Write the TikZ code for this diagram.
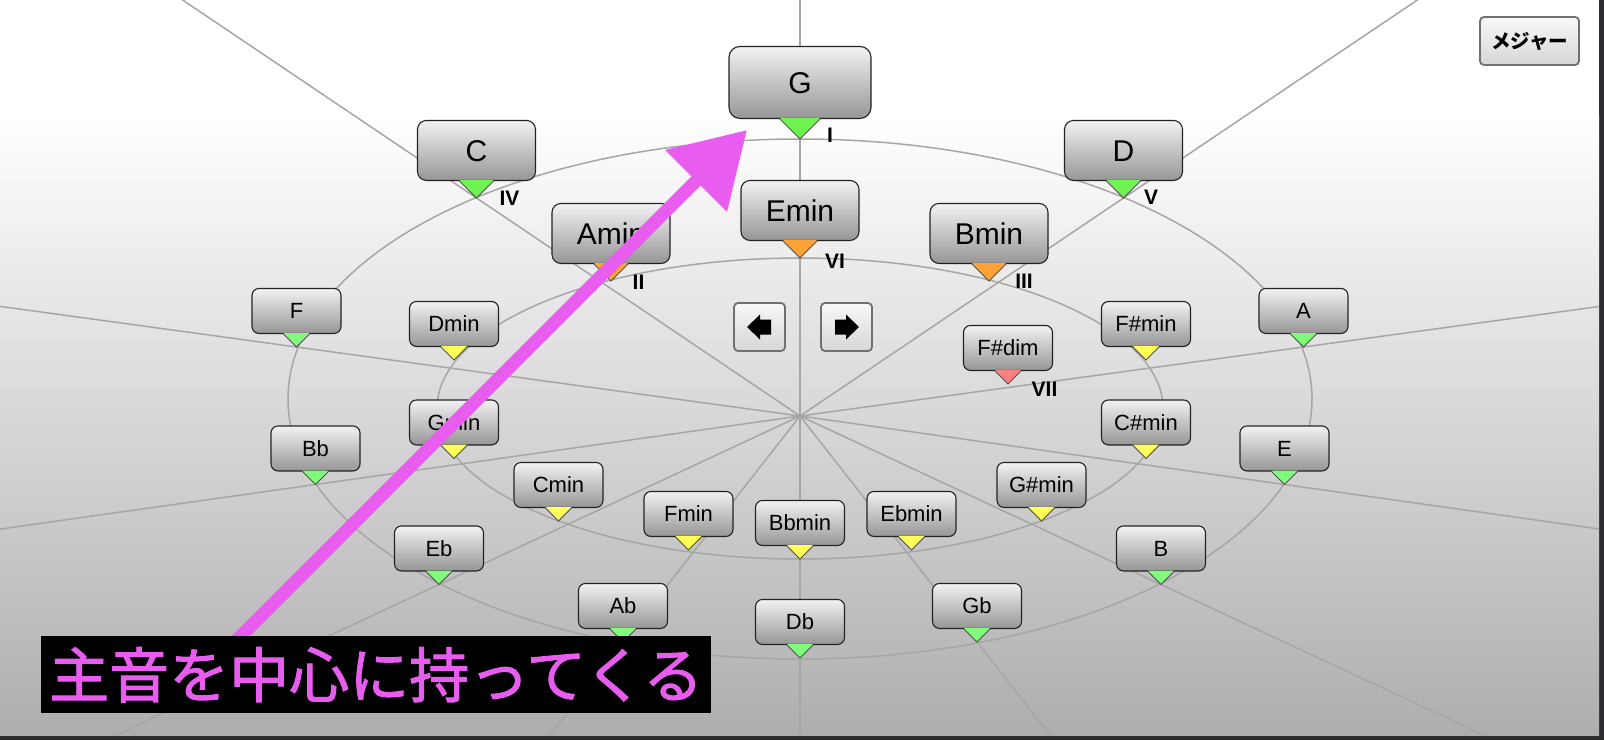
\documentclass[tikz,border=0pt]{standalone}
\usepackage{fontspec}
\setmainfont{Liberation Sans}
\newfontfamily\jpfont{Noto Sans CJK JP}
\newfontfamily\jpcap[FakeBold=1.6]{Noto Sans CJK JP}
\usetikzlibrary{arrows.meta,calc}
\definecolor{framec}{RGB}{44,46,50}
\definecolor{bgbot}{RGB}{174,174,174}
\definecolor{spokec}{RGB}{166,166,166}
\definecolor{boxtop}{RGB}{242,242,242}
\definecolor{boxbot}{RGB}{150,150,150}
\definecolor{boxedge}{RGB}{35,35,35}
\definecolor{grnB}{RGB}{112,242,82}
\definecolor{grnS}{RGB}{128,252,122}
\definecolor{orgP}{RGB}{255,162,56}
\definecolor{yelP}{RGB}{255,255,88}
\definecolor{pnkP}{RGB}{255,128,128}
\definecolor{mag}{RGB}{232,92,240}
\definecolor{btnedge}{RGB}{112,112,112}
\definecolor{btntop}{RGB}{247,248,249}
\definecolor{btnbot}{RGB}{212,214,216}
\def\smW{89}\def\smH{45}\def\smD{13}\def\smF{22}\def\smR{7}
\def\mdW{118}\def\mdH{60}\def\mdD{17}\def\mdF{30}\def\mdR{9}
\def\lgW{142}\def\lgH{72}\def\lgD{20}\def\lgF{30}\def\lgR{11}
\tikzset{
  spoke/.style={draw=spokec, line width=1.5pt},
  ring/.style={draw=spokec, line width=1.5pt},
  chordbox/.style={draw=boxedge, line width=1.1pt, top color=boxtop, bottom color=boxbot,
    inner sep=0pt, text=black},
  ptredge/.style={draw=boxedge!80, line width=0.8pt},
  roman/.style={font=\bfseries\fontsize{21}{21}\selectfont, inner sep=0pt, text=black},
  btn/.style={draw=btnedge, line width=1.8pt, rounded corners=4pt, top color=btntop,
    bottom color=btnbot, inner sep=0pt},
}
\newcommand\chord[5]{%
  \edef\cW{\csname#4W\endcsname}%
  \edef\cH{\csname#4H\endcsname}%
  \edef\cD{\csname#4D\endcsname}%
  \edef\cF{\csname#4F\endcsname}%
  \edef\cR{\csname#4R\endcsname}%
  \pgfmathsetmacro\cT{0.716*\cF}%
  \pgfmathsetmacro\cDp{\cD+1}%
  \node[chordbox, minimum width=\cW pt, minimum height=\cH pt, rounded corners=\cR pt,
        font=\fontsize{\cF}{\cF}\selectfont, text height=\cT pt, text depth=0pt,
        anchor=south] (#1) at ([yshift=\cD pt]#2) {#3};
  \fill[#5] ([shift={(-\cD pt,\cDp pt)}]#2) -- (#2) -- ([shift={(\cD pt,\cDp pt)}]#2) -- cycle;
  \draw[ptredge] ([shift={(-\cD pt,\cD pt)}]#2) -- (#2) -- ([shift={(\cD pt,\cD pt)}]#2);
}
\begin{document}
\begin{tikzpicture}[x=1pt,y=-1pt]
\useasboundingbox (0,0) rectangle (1604,740);
\fill[framec] (0,0) rectangle (1604,740);
\fill[white] (0,0) rectangle (1599,116);
\shade[top color=white, bottom color=bgbot] (0,115) rectangle (1599,735);
% centre and tip coordinates
\coordinate (O) at (800,416);
\coordinate (tG) at (800,139);
\coordinate (tD) at (1123.5,198);
\coordinate (tC) at (476.5,198);
\coordinate (tA) at (1303.5,347);
\coordinate (tF) at (296.5,347);
\coordinate (tE) at (1284.5,484.5);
\coordinate (tBb) at (315.5,484.5);
\coordinate (tB) at (1161,584.5);
\coordinate (tEb) at (439,584.5);
\coordinate (tGb) at (977,642);
\coordinate (tAb) at (623,642);
\coordinate (tDb) at (800,658);
\coordinate (tEm) at (800,258);
\coordinate (tBm) at (989,281);
\coordinate (tAm) at (611,281);
\coordinate (tFsm) at (1146,360);
\coordinate (tDm) at (454,360);
\coordinate (tCsm) at (1146,458.5);
\coordinate (tGm) at (454,458.5);
\coordinate (tGsm) at (1041.5,521);
\coordinate (tCm) at (558.5,521);
\coordinate (tEbm) at (911.5,550);
\coordinate (tFm) at (688.5,550);
\coordinate (tBbm) at (800,559);
\coordinate (tFsd) at (1008,384);
\coordinate (EO) at (800,399);
\coordinate (EI) at (800,408.5);
% spokes
\begin{scope}
\clip (0,0) rectangle (1599,735);
\foreach \t in {tG,tD,tA,tE,tB,tGb,tDb,tAb,tEb,tBb,tF,tC}
  \draw[spoke] (O) -- ($(O)!6!(\t)$);
\end{scope}
% rings
\draw[ring] (EO) ellipse [x radius=512pt, y radius=260pt];
\draw[ring] (EI) ellipse [x radius=363pt, y radius=150.5pt];
% outer ring (major)
\chord{G}{tG}{G}{lg}{grnB}
\chord{D}{tD}{D}{md}{grnB}
\chord{C}{tC}{C}{md}{grnB}
\chord{A}{tA}{A}{sm}{grnS}
\chord{F}{tF}{F}{sm}{grnS}
\chord{E}{tE}{E}{sm}{grnS}
\chord{Bb}{tBb}{Bb}{sm}{grnS}
\chord{B}{tB}{B}{sm}{grnS}
\chord{Eb}{tEb}{Eb}{sm}{grnS}
\chord{Gb}{tGb}{Gb}{sm}{grnS}
\chord{Ab}{tAb}{Ab}{sm}{grnS}
\chord{Db}{tDb}{Db}{sm}{grnS}
% inner ring (minor)
\chord{Em}{tEm}{Emin}{md}{orgP}
\chord{Bm}{tBm}{Bmin}{md}{orgP}
\chord{Am}{tAm}{Amin}{md}{orgP}
\chord{Fsm}{tFsm}{F\#min}{sm}{yelP}
\chord{Dm}{tDm}{Dmin}{sm}{yelP}
\chord{Csm}{tCsm}{C\#min}{sm}{yelP}
\chord{Gm}{tGm}{Gmin}{sm}{yelP}
\chord{Gsm}{tGsm}{G\#min}{sm}{yelP}
\chord{Cm}{tCm}{Cmin}{sm}{yelP}
\chord{Ebm}{tEbm}{Ebmin}{sm}{yelP}
\chord{Fm}{tFm}{Fmin}{sm}{yelP}
\chord{Bbm}{tBbm}{Bbmin}{sm}{yelP}
\chord{Fsd}{tFsd}{F\#dim}{sm}{pnkP}
% degree labels
\node[roman] (rI) at (830,135.5) {I};
\node[roman] (rIV) at (509.5,198.5) {IV};
\node[roman] (rV) at (1151,197.5) {V};
\node[roman] (rII) at (638.5,282) {II};
\node[roman] (rVI) at (835,261) {VI};
\node[roman] (rIII) at (1024,281) {III};
\node[roman] (rVII) at (1044.5,389) {VII};
% buttons
\node[btn, minimum width=99pt, minimum height=48pt,
      font=\jpfont\bfseries\fontsize{19.5}{19.5}\selectfont] (major) at (1529.5,41) {メジャー};
\node[btn, minimum width=51pt, minimum height=48pt] (lbtn) at (759.5,327) {};
\node[btn, minimum width=51pt, minimum height=48pt] (rbtn) at (846.5,327) {};
\fill[black] ([xshift=-12.5pt]lbtn.center) -- ([shift={(0.5pt,12.5pt)}]lbtn.center)
  -- ([shift={(0.5pt,7.5pt)}]lbtn.center) -- ([shift={(11.5pt,7.5pt)}]lbtn.center)
  -- ([shift={(11.5pt,-7.5pt)}]lbtn.center) -- ([shift={(0.5pt,-7.5pt)}]lbtn.center)
  -- ([shift={(0.5pt,-12.5pt)}]lbtn.center) -- cycle;
\fill[black] ([xshift=12.5pt]rbtn.center) -- ([shift={(-0.5pt,12.5pt)}]rbtn.center)
  -- ([shift={(-0.5pt,7.5pt)}]rbtn.center) -- ([shift={(-11.5pt,7.5pt)}]rbtn.center)
  -- ([shift={(-11.5pt,-7.5pt)}]rbtn.center) -- ([shift={(-0.5pt,-7.5pt)}]rbtn.center)
  -- ([shift={(-0.5pt,-12.5pt)}]rbtn.center) -- cycle;
% magenta arrow
\coordinate (arrS) at (232,645);
\coordinate (arrT) at (747,130);
\draw[mag, line width=13pt, -{Triangle[length=72pt,width=84pt]}] (arrS) -- (arrT);
% caption
\node[fill=black, text=mag, font=\jpcap\fontsize{60}{60}\selectfont, inner sep=0pt,
      minimum width=670pt, minimum height=77pt, anchor=north west] (caption) at (41,636)
      {主音を中心に持ってくる};
\end{tikzpicture}
\end{document}
